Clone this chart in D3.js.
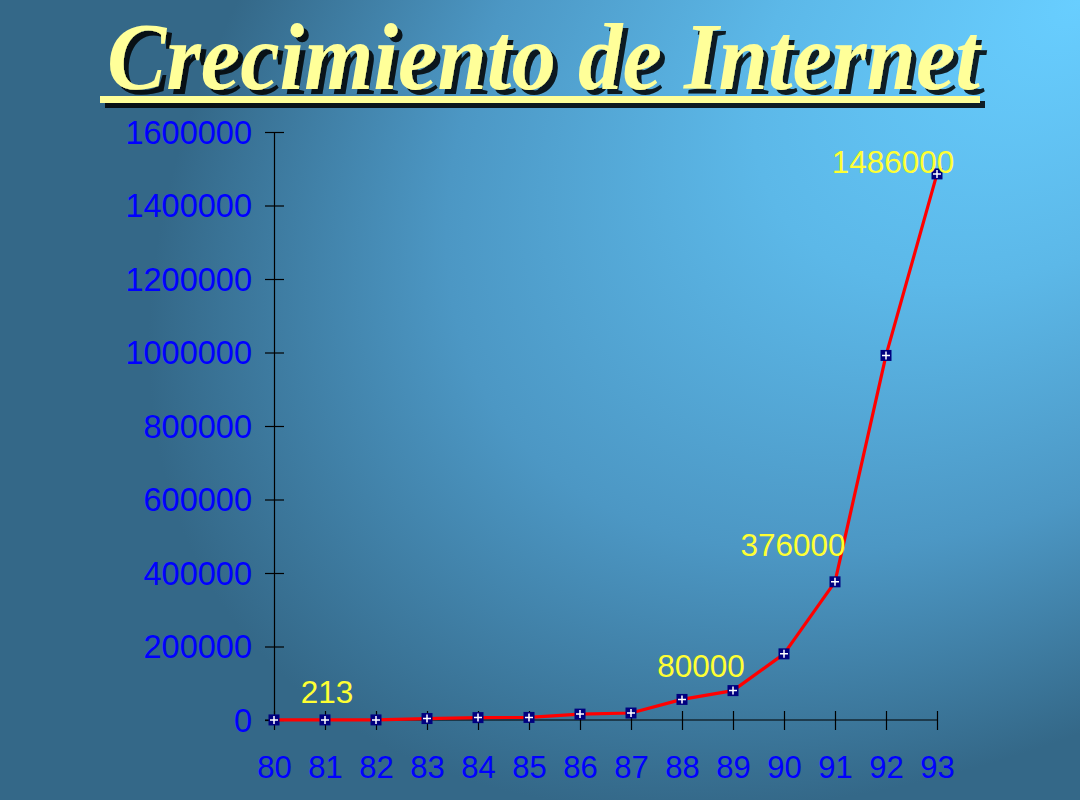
<!DOCTYPE html>
<html>
<head>
<meta charset="utf-8">
<script src="https://cdn.jsdelivr.net/npm/d3@7"></script>
<style>
html,body{margin:0;padding:0;background:#336688;}
svg{display:block;}
</style>
</head>
<body>
<svg id="chart" width="1080" height="800"></svg>
<script>
// ---- data ----
const years = ["80","81","82","83","84","85","86","87","88","89","90","91","92","93"];
const hosts = [200, 213, 235, 4000, 6500, 7000, 16000, 19000, 56000, 80000, 180000, 376000, 992000, 1486000];
const yTicks = [0, 200000, 400000, 600000, 800000, 1000000, 1200000, 1400000, 1600000];
const labelIdx = [1, 9, 11, 13];
const labelText = ["213", "80000", "376000", "1486000"];
const titleText = "Crecimiento de Internet";

// ---- layout ----
const W = 1080, H = 800;
const svg = d3.select("#chart");
const defs = svg.append("defs");

// background gradient
const rg = defs.append("radialGradient")
  .attr("id", "bg").attr("gradientUnits", "userSpaceOnUse")
  .attr("cx", 1080).attr("cy", 0).attr("r", 1050)
  .attr("gradientTransform", "translate(1080,0) rotate(144) scale(1,0.62) translate(-1080,0)");
rg.append("stop").attr("offset", "0").attr("stop-color", "#68ceff");
rg.append("stop").attr("offset", "0.35").attr("stop-color", "#5cb8e8");
rg.append("stop").attr("offset", "0.68").attr("stop-color", "#4c97c4");
rg.append("stop").attr("offset", "1").attr("stop-color", "#346888");
svg.append("rect").attr("width", W).attr("height", H).attr("fill", "#346888");
svg.append("rect").attr("width", W).attr("height", H).attr("fill", "url(#bg)");

// shadow filter
const f = defs.append("filter").attr("id", "shadow").attr("x", "-5%").attr("y", "-20%").attr("width", "110%").attr("height", "140%");
f.append("feOffset").attr("in", "SourceAlpha").attr("dx", 5).attr("dy", 5).attr("result", "off");
f.append("feComponentTransfer").attr("in", "off").attr("result", "sh")
  .append("feFuncA").attr("type", "linear").attr("slope", 0.85);
const fm = f.append("feMerge");
fm.append("feMergeNode").attr("in", "sh");
fm.append("feMergeNode").attr("in", "SourceGraphic");

// title
const tg = svg.append("g").attr("filter", "url(#shadow)");
tg.append("rect").attr("x", 100).attr("y", 96).attr("width", 880).attr("height", 7).attr("fill", "#ffff99");
tg.append("text")
  .attr("x", 107).attr("y", 89)
  .attr("textLength", 873).attr("lengthAdjust", "spacingAndGlyphs")
  .attr("font-family", "'Liberation Serif', 'Times New Roman', serif")
  .attr("font-weight", "bold").attr("font-style", "italic")
  .attr("font-size", 95).attr("fill", "#ffff99")
  .text(titleText);

// scales
const x = d3.scalePoint().domain(years).range([274, 937]);
const y = d3.scaleLinear().domain([0, 1600000]).range([720, 132]);

const fontAxis = "'Liberation Sans', Arial, sans-serif";

// y axis
const gy = svg.append("g").attr("transform", "translate(274,0)")
  .call(d3.axisLeft(y).tickValues(yTicks).tickSizeOuter(0).tickSize(9).tickPadding(13).tickFormat(d3.format("d")));
gy.select(".domain").attr("stroke", "#000").attr("stroke-width", 1.2);
gy.selectAll(".tick line").attr("x1", 10).attr("x2", -9).attr("stroke", "#000").attr("stroke-width", 1.2);
gy.selectAll(".tick text").attr("font-family", fontAxis).attr("font-size", 32.5).attr("fill", "#0000ff").attr("dy", "0.35em");

// x axis
const gx = svg.append("g").attr("transform", "translate(0,720)")
  .call(d3.axisBottom(x).tickSizeOuter(0).tickSize(10).tickPadding(26));
gx.select(".domain").attr("stroke", "#000").attr("stroke-width", 1.2).attr("d", "M265,0H937");
gx.selectAll(".tick line").attr("y1", -9).attr("y2", 10).attr("stroke", "#000").attr("stroke-width", 1.2);
gx.selectAll(".tick text").attr("font-family", fontAxis).attr("font-size", 31).attr("fill", "#0000ff");

// line
const pts = years.map((yr, i) => ({yr, v: hosts[i]}));
svg.append("path").datum(pts)
  .attr("fill", "none").attr("stroke", "#ff0000").attr("stroke-width", 3.2).attr("stroke-linejoin", "round")
  .attr("d", d3.line().x(d => x(d.yr)).y(d => y(d.v)));

// markers
const mk = svg.append("g").selectAll("g").data(pts).join("g")
  .attr("transform", d => `translate(${x(d.yr)},${y(d.v)})`);
mk.append("rect").attr("x", -5.5).attr("y", -5.5).attr("width", 11).attr("height", 11).attr("fill", "#000080");
mk.append("path").attr("d", "M-4,0H4M0,-4V4").attr("stroke", "#fff").attr("stroke-width", 1.5);

// data labels
const lblOffsets = [[2, -17], [-32, -14], [-42, -26], [-44, -1]];
svg.append("g").selectAll("text").data(labelIdx).join("text")
  .attr("x", (d, i) => x(years[d]) + lblOffsets[i][0])
  .attr("y", (d, i) => y(hosts[d]) + lblOffsets[i][1])
  .attr("text-anchor", "middle")
  .attr("font-family", fontAxis).attr("font-size", 31.5).attr("fill", "#ffff33")
  .text((d, i) => labelText[i]);
</script>
</body>
</html>
